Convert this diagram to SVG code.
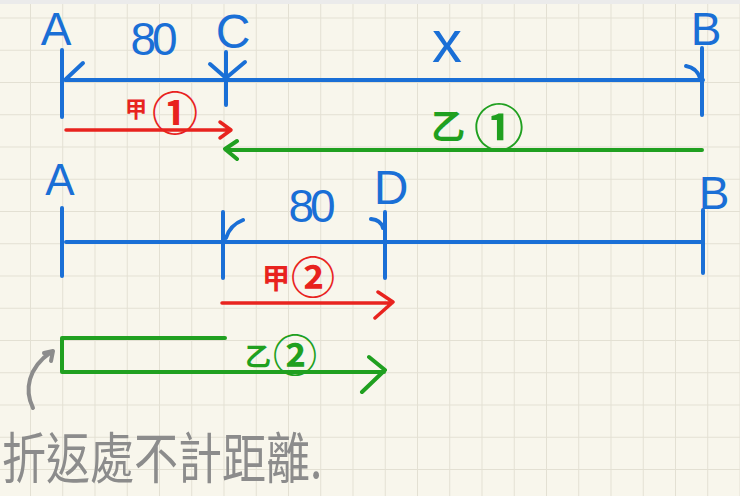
<svg xmlns="http://www.w3.org/2000/svg" width="740" height="496" viewBox="0 0 740 496">
<defs>
<pattern id="grid" x="30" y="17.5" width="32.25" height="32.25" patternUnits="userSpaceOnUse">
<path d="M0,0 V32.25 M0,0 H32.25" fill="none" stroke="#e3e0d3" stroke-width="2"/>
</pattern>
<style>
.b{stroke:#1a6fd6;stroke-width:4;fill:none;stroke-linecap:round;stroke-linejoin:round}
.r{stroke:#e8231e;stroke-width:3.5;fill:none;stroke-linecap:round;stroke-linejoin:round}
.g{stroke:#20a020;stroke-width:4;fill:none;stroke-linecap:round;stroke-linejoin:round}
.k{stroke:#8c8c8c;stroke-width:4;fill:none;stroke-linecap:round;stroke-linejoin:round}
.lb{fill:#1a6fd6;font-family:"Liberation Sans",sans-serif;text-anchor:middle}
.cr{fill:#e8231e;font-family:"Noto Sans CJK TC","Noto Sans CJK SC",sans-serif;text-anchor:middle;dominant-baseline:central;font-weight:bold}
.cg{fill:#20a020;font-family:"Noto Sans CJK TC","Noto Sans CJK SC",sans-serif;text-anchor:middle;dominant-baseline:central;font-weight:bold}
.note{fill:#8c8c8c;font-family:"Noto Sans CJK TC","Noto Sans CJK SC",sans-serif}
</style>
</defs>
<rect width="740" height="496" fill="#f8f6ec"/>
<rect width="740" height="496" fill="url(#grid)"/>
<rect width="740" height="4" fill="#ebebeb"/>

<g id="connectors">
<path class="b" d="M65,80 H703"/>
<path class="r" d="M66,130 H230 M220,122 L231,130 L220,138"/>
<path class="g" d="M702,150 H226 M237,141 L225,149 L237,159"/>
<path class="b" d="M66,242 H703"/>
<path class="r" d="M222,303 H392 M378,292 L393,302 L375,318"/>
<path class="g" d="M225,338 H62 V372 H384 M369,357 L385,370 L362,392"/>
<path class="k" d="M33,408 C24,390 28,368 51,352 M44,353 L53,351 L51,361"/>
</g>

<g id="row1-A">
<path class="b" d="M62,50 V117 M83,63 L66,79"/>
<text class="lb" x="56" y="45" font-size="46">A</text>
</g>
<g id="row1-80">
<text class="lb" x="152" y="55" font-size="46" letter-spacing="-4">80</text>
</g>
<g id="row1-C">
<path class="b" d="M226,52 V105 M210,64 L226,78 M245,62 L226,78"/>
<text class="lb" x="233" y="48" font-size="48">C</text>
</g>
<g id="row1-x">
<text class="lb" x="447" y="62" font-size="60">x</text>
</g>
<g id="row1-B">
<path class="b" d="M702,48 V115 M686,66 Q697,68 700,78"/>
<text class="lb" x="706" y="45" font-size="46">B</text>
</g>
<g id="jia1">
<text class="cr" x="136" y="107" font-size="22">甲</text>
<text class="cr" x="175" y="110" font-size="46">①</text>
</g>
<g id="yi1">
<text class="cg" x="448" y="124" font-size="34">乙</text>
<text class="cg" x="499" y="124" font-size="50">①</text>
</g>

<g id="row2-A">
<path class="b" d="M62,208 V276"/>
<text class="lb" x="60" y="195" font-size="44">A</text>
</g>
<g id="row2-C">
<path class="b" d="M223,212 V278 M243,220 Q230,225 226,238"/>
</g>
<g id="row2-80">
<text class="lb" x="310" y="222" font-size="46" letter-spacing="-4">80</text>
</g>
<g id="row2-D">
<path class="b" d="M385,212 V278 M371,219 Q381,220 383,228"/>
<text class="lb" x="391" y="204" font-size="48">D</text>
</g>
<g id="row2-B">
<path class="b" d="M703,210 V273"/>
<text class="lb" x="714" y="209" font-size="46">B</text>
</g>
<g id="jia2">
<text class="cr" x="276" y="277" font-size="28">甲</text>
<text class="cr" x="313" y="275" font-size="44">②</text>
</g>
<g id="yi2">
<text class="cg" x="258" y="354" font-size="26">乙</text>
<text class="cg" x="295" y="353" font-size="44">②</text>
</g>

<g id="note">
<text class="note" transform="translate(2,478) scale(1,1.25)" font-size="44">折返處不計距離.</text>
</g>
</svg>
